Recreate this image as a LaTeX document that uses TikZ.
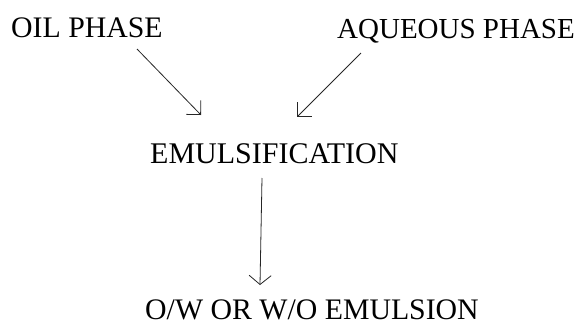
\documentclass[tikz,border=0pt]{standalone}
\usepackage{fontspec}
\setmainfont{Liberation Serif}
\usetikzlibrary{arrows.meta}
\begin{document}
\begin{tikzpicture}[x=1pt,y=-1pt,
  lbl/.style={anchor=base west,inner sep=0pt,font=\fontsize{29.8}{34}\selectfont,text=black},
  conn/.style={draw=black!85,line width=0.8pt,-{Straight Barb[length=10pt,width=20pt,line width=0.8pt]}},
  connd/.style={draw=black!85,line width=0.8pt,-{Straight Barb[length=9pt,width=22pt,line width=0.8pt]}}]
\useasboundingbox (0,0) rectangle (576,322);
\fill[white] (0,0) rectangle (576,322);
\node[lbl] (oil) at (11,37) {OIL PHASE};
\node[lbl,font=\fontsize{29}{34}\selectfont] (aq) at (337,38) {AQUEOUS PHASE};
\node[lbl,font=\fontsize{30}{34}\selectfont] (emul) at (150,163) {EMULSIFICATION};
\node[lbl] (out) at (145,319) {O/W OR W/O EMULSION};
\coordinate (oilS) at (137,49);
\coordinate (oilT) at (201,115);
\coordinate (aqS) at (361,53);
\coordinate (aqT) at (297,117);
\coordinate (emS) at (262,178);
\coordinate (emT) at (260,285);
\draw[conn] (oilS) -- (oilT);
\draw[conn] (aqS) -- (aqT);
\draw[connd] (emS) -- (emT);
\end{tikzpicture}
\end{document}
